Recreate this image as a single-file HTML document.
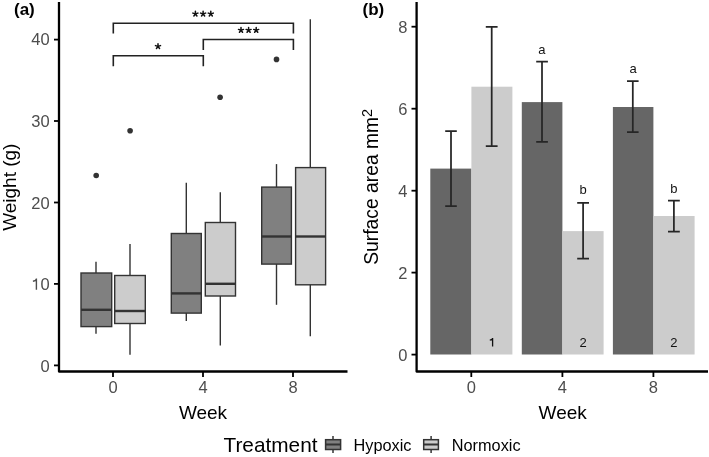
<!DOCTYPE html>
<html><head><meta charset="utf-8">
<style>
html,body{margin:0;padding:0;background:#fff;}
svg{display:block;will-change:transform;}
text{font-family:"Liberation Sans",sans-serif;}
</style></head>
<body>
<svg width="709" height="457" viewBox="0 0 709 457">
<rect x="0" y="0" width="709" height="457" fill="#fff"/>
<!-- ===== Panel (a) ===== -->
<text x="14" y="15.4" font-size="17" font-weight="bold" fill="#000">(a)</text>
<!-- y title -->
<text transform="translate(16.1,187.2) rotate(-90)" text-anchor="middle" font-size="19" fill="#000">Weight (g)</text>
<!-- y tick labels -->
<g font-size="16.5" fill="#4d4d4d" text-anchor="end">
<text x="49.6" y="371.6">0</text>
<text x="49.6" y="290.2">0</text>
<text x="49.6" y="208.7">20</text>
<text x="49.6" y="127.2">30</text>
<text x="49.6" y="45.3">40</text>
</g>
<g stroke="#000" stroke-width="1.8">
<line x1="54" y1="365.4" x2="59" y2="365.4"/>
<line x1="54" y1="283.9" x2="59" y2="283.9"/>
<line x1="54" y1="202.5" x2="59" y2="202.5"/>
<line x1="54" y1="121" x2="59" y2="121"/>
<line x1="54" y1="39.6" x2="59" y2="39.6"/>
<line x1="113" y1="371" x2="113" y2="377"/>
<line x1="203" y1="371" x2="203" y2="377"/>
<line x1="293" y1="371" x2="293" y2="377"/>
</g>
<!-- axis lines -->
<path d="M59 2 V371.5 H347.5" fill="none" stroke="#000" stroke-width="2.3" stroke-linejoin="round"/>
<g font-size="16.5" fill="#4d4d4d" text-anchor="middle">
<text x="113" y="393">0</text>
<text x="203" y="393">4</text>
<text x="293" y="393">8</text>
</g>
<text x="203" y="419.2" text-anchor="middle" font-size="19" fill="#000">Week</text>

<!-- boxplots -->
<g stroke="#333" stroke-width="1.4">
<!-- W0 -->
<line x1="96" y1="261.8" x2="96" y2="333.7"/>
<rect x="81" y="273" width="30.7" height="53.6" fill="#808080"/>
<line x1="81" y1="309.8" x2="111.7" y2="309.8" stroke-width="2.4"/>
<line x1="130" y1="244" x2="130" y2="354.7"/>
<rect x="114.7" y="275.5" width="30.6" height="48" fill="#cccccc"/>
<line x1="114.7" y1="311" x2="145.3" y2="311" stroke-width="2.4"/>
<!-- W4 -->
<line x1="186.3" y1="182.7" x2="186.3" y2="321"/>
<rect x="171.3" y="233.5" width="30" height="79.6" fill="#808080"/>
<line x1="171.3" y1="293.4" x2="201.3" y2="293.4" stroke-width="2.4"/>
<line x1="220.3" y1="192.3" x2="220.3" y2="345.5"/>
<rect x="205.3" y="222.5" width="30.2" height="73.5" fill="#cccccc"/>
<line x1="205.3" y1="283.8" x2="235.5" y2="283.8" stroke-width="2.4"/>
<!-- W8 -->
<line x1="276.5" y1="164.1" x2="276.5" y2="304.8"/>
<rect x="261.7" y="187.1" width="29.7" height="77" fill="#808080"/>
<line x1="261.7" y1="236.5" x2="291.4" y2="236.5" stroke-width="2.4"/>
<line x1="310.3" y1="19.2" x2="310.3" y2="336.2"/>
<rect x="295.6" y="167.6" width="30" height="117.2" fill="#cccccc"/>
<line x1="295.6" y1="236.5" x2="325.6" y2="236.5" stroke-width="2.4"/>
</g>
<g fill="#333">
<circle cx="96.2" cy="175.5" r="2.8"/>
<circle cx="130.1" cy="130.8" r="2.8"/>
<circle cx="220.1" cy="97.3" r="2.8"/>
<circle cx="276.5" cy="59.4" r="2.8"/>
</g>
<!-- brackets -->
<g fill="none" stroke="#222" stroke-width="1.6">
<path d="M113.3 33.6 V23.3 H293.4 V33.6"/>
<path d="M113.3 66.2 V55.8 H203.3 V66.2"/>
<path d="M203.3 50 V39.5 H293.4 V50"/>
</g>
<path d="M195.40 13.90L195.40 11.30M195.40 13.90L197.87 13.10M195.40 13.90L196.93 16.00M195.40 13.90L193.87 16.00M195.40 13.90L192.93 13.10M203.10 13.90L203.10 11.30M203.10 13.90L205.57 13.10M203.10 13.90L204.63 16.00M203.10 13.90L201.57 16.00M203.10 13.90L200.63 13.10M210.80 13.90L210.80 11.30M210.80 13.90L213.27 13.10M210.80 13.90L212.33 16.00M210.80 13.90L209.27 16.00M210.80 13.90L208.33 13.10M241.00 30.20L241.00 27.60M241.00 30.20L243.47 29.40M241.00 30.20L242.53 32.30M241.00 30.20L239.47 32.30M241.00 30.20L238.53 29.40M248.60 30.20L248.60 27.60M248.60 30.20L251.07 29.40M248.60 30.20L250.13 32.30M248.60 30.20L247.07 32.30M248.60 30.20L246.13 29.40M256.20 30.20L256.20 27.60M256.20 30.20L258.67 29.40M256.20 30.20L257.73 32.30M256.20 30.20L254.67 32.30M256.20 30.20L253.73 29.40M158.00 46.40L158.00 43.80M158.00 46.40L160.47 45.60M158.00 46.40L159.53 48.50M158.00 46.40L156.47 48.50M158.00 46.40L155.53 45.60" stroke="#111" stroke-width="1.5" stroke-linecap="round" fill="none"/>

<!-- ===== Panel (b) ===== -->
<text x="362.5" y="15.4" font-size="17" font-weight="bold" fill="#000">(b)</text>
<text transform="translate(377.8,186.8) rotate(-90)" text-anchor="middle" font-size="19.3" fill="#000">Surface area mm<tspan font-size="14.5" dy="-6">2</tspan></text>
<g font-size="16.5" fill="#4d4d4d" text-anchor="end">
<text x="407.4" y="360.8">0</text>
<text x="407.4" y="278.9">2</text>
<text x="407.4" y="196.9">4</text>
<text x="407.4" y="114.9">6</text>
<text x="407.4" y="32.9">8</text>
</g>
<g stroke="#000" stroke-width="1.8">
<line x1="411.5" y1="354.6" x2="416.5" y2="354.6"/>
<line x1="411.5" y1="272.6" x2="416.5" y2="272.6"/>
<line x1="411.5" y1="190.7" x2="416.5" y2="190.7"/>
<line x1="411.5" y1="108.7" x2="416.5" y2="108.7"/>
<line x1="411.5" y1="26.7" x2="416.5" y2="26.7"/>
<line x1="471.3" y1="371" x2="471.3" y2="377"/>
<line x1="562.4" y1="371" x2="562.4" y2="377"/>
<line x1="653.4" y1="371" x2="653.4" y2="377"/>
</g>
<path d="M416.6 2 V371.5 H708" fill="none" stroke="#000" stroke-width="2.3" stroke-linejoin="round"/>
<g font-size="16.5" fill="#4d4d4d" text-anchor="middle">
<text x="471.3" y="393">0</text>
<text x="562.4" y="393">4</text>
<text x="653.4" y="393">8</text>
</g>
<text x="562.7" y="419.2" text-anchor="middle" font-size="19" fill="#000">Week</text>

<!-- bars -->
<rect x="430.3" y="168.6" width="41.1" height="185.9" fill="#666666"/>
<rect x="471.4" y="86.7" width="41" height="267.8" fill="#cccccc"/>
<rect x="521.8" y="102.1" width="40.6" height="252.4" fill="#666666"/>
<rect x="562.4" y="231.1" width="41.2" height="123.4" fill="#cccccc"/>
<rect x="612.9" y="107" width="40.5" height="247.5" fill="#666666"/>
<rect x="653.4" y="216" width="41.2" height="138.5" fill="#cccccc"/>
<!-- error bars -->
<g stroke="#262626" stroke-width="1.75" fill="none">
<path d="M445.2 131 H456.8 M451 131 V206.2 M445.2 206.2 H456.8"/>
<path d="M485.8 26.8 H497.6 M491.7 26.8 V146 M485.8 146 H497.6"/>
<path d="M536.2 61.7 H547.9 M542 61.7 V141.8 M536.2 141.8 H547.9"/>
<path d="M577.2 202.9 H589 M583.1 202.9 V258.6 M577.2 258.6 H589"/>
<path d="M627 81 H638.6 M632.8 81 V132 M627 132 H638.6"/>
<path d="M668 200.6 H679.8 M673.9 200.6 V231.7 M668 231.7 H679.8"/>
</g>
<g font-size="13" fill="#111" text-anchor="middle">
<text x="541.8" y="53.8">a</text>
<text x="633" y="73.2">a</text>
<text x="583" y="194.4">b</text>
<text x="673.9" y="193.3">b</text>
<text x="583" y="346.5">2</text>
<text x="673.9" y="346.5">2</text>
</g>

<path d="M36.4 289.8V278.6M36.5 278.9C36 280.3 34.9 281.1 32.9 281.3" stroke="#4d4d4d" stroke-width="1.4" fill="none"/>
<path d="M492.6 346.6V338M492.7 338.2C492.3 339.3 491.4 340 489.8 340.2" stroke="#111" stroke-width="1.3" fill="none"/>
<!-- ===== Legend ===== -->
<text x="223.5" y="452.3" font-size="20.8" fill="#000">Treatment</text>
<g stroke="#333" stroke-width="1.5">
<line x1="333" y1="436" x2="333" y2="453"/>
<rect x="325.6" y="439.7" width="15" height="9.8" fill="#808080"/>
<line x1="325.6" y1="444.5" x2="340.6" y2="444.5" stroke-width="2"/>
<line x1="431.1" y1="436" x2="431.1" y2="453"/>
<rect x="423.7" y="439.7" width="14.7" height="9.8" fill="#cccccc"/>
<line x1="423.7" y1="444.5" x2="438.4" y2="444.5" stroke-width="2"/>
</g>
<g font-size="16.3" fill="#000">
<text x="353.6" y="450.9">Hypoxic</text>
<text x="451.8" y="450.9">Normoxic</text>
</g>
</svg>
</body></html>
